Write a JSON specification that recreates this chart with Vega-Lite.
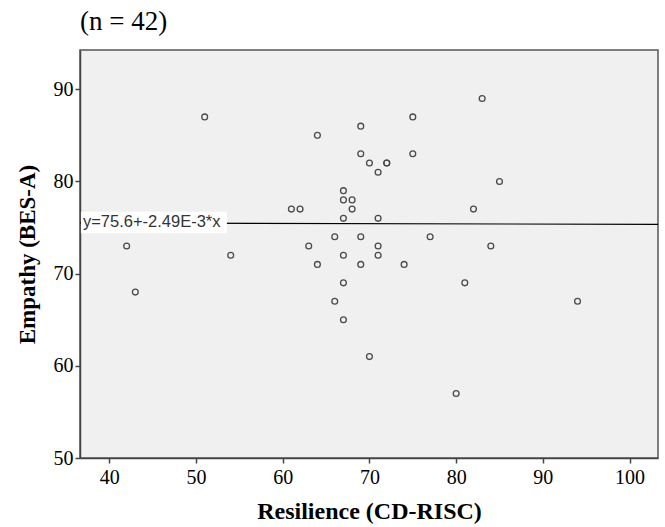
{
  "$schema": "https://vega.github.io/schema/vega-lite/v6.json",
  "width": 578,
  "height": 408,
  "autosize": "none",
  "padding": {"left": 80, "top": 50, "right": 7, "bottom": 69},
  "background": "white",
  "title": {
    "text": "(n = 42)",
    "anchor": "start",
    "frame": "group",
    "font": "Liberation Serif",
    "fontSize": 27,
    "fontWeight": "normal",
    "color": "black",
    "baseline": "bottom",
    "offset": 14,
    "dy": 27
  },
  "config": {
    "view": {"fill": "#f0f0f0", "stroke": "#555555", "strokeWidth": 1.5},
    "axis": {
      "grid": false,
      "domainColor": "#444444",
      "domainWidth": 1.5,
      "tickColor": "#444444",
      "tickWidth": 1.5,
      "tickSize": 5,
      "labelFont": "Liberation Serif",
      "labelFontSize": 20,
      "labelColor": "black",
      "labelFlush": false,
      "labelOverlap": false,
      "titleFont": "Liberation Serif",
      "titleFontSize": 23,
      "titleFontWeight": "bold",
      "titleColor": "black"
    }
  },
  "datasets": {
    "pts": [
      {"resilience": 42, "empathy": 73},
      {"resilience": 43, "empathy": 68},
      {"resilience": 51, "empathy": 87},
      {"resilience": 54, "empathy": 72},
      {"resilience": 61, "empathy": 77},
      {"resilience": 62, "empathy": 77},
      {"resilience": 63, "empathy": 73},
      {"resilience": 64, "empathy": 85},
      {"resilience": 64, "empathy": 71},
      {"resilience": 66, "empathy": 74},
      {"resilience": 66, "empathy": 67},
      {"resilience": 67, "empathy": 79},
      {"resilience": 67, "empathy": 78},
      {"resilience": 67, "empathy": 76},
      {"resilience": 67, "empathy": 72},
      {"resilience": 67, "empathy": 69},
      {"resilience": 67, "empathy": 65},
      {"resilience": 68, "empathy": 78},
      {"resilience": 68, "empathy": 77},
      {"resilience": 69, "empathy": 86},
      {"resilience": 69, "empathy": 83},
      {"resilience": 69, "empathy": 74},
      {"resilience": 69, "empathy": 71},
      {"resilience": 70, "empathy": 82},
      {"resilience": 70, "empathy": 61},
      {"resilience": 71, "empathy": 81},
      {"resilience": 71, "empathy": 76},
      {"resilience": 71, "empathy": 73},
      {"resilience": 71, "empathy": 72},
      {"resilience": 72, "empathy": 82},
      {"resilience": 72, "empathy": 82},
      {"resilience": 74, "empathy": 71},
      {"resilience": 75, "empathy": 87},
      {"resilience": 75, "empathy": 83},
      {"resilience": 77, "empathy": 74},
      {"resilience": 80, "empathy": 57},
      {"resilience": 81, "empathy": 69},
      {"resilience": 82, "empathy": 77},
      {"resilience": 83, "empathy": 89},
      {"resilience": 84, "empathy": 73},
      {"resilience": 85, "empathy": 80},
      {"resilience": 94, "empathy": 67}
    ],
    "fit": [
      {"resilience": 36.62, "empathy": 75.51},
      {"resilience": 103.28, "empathy": 75.34}
    ],
    "annot": [
      {"label": "y=75.6+-2.49E-3*x", "x": 36.96, "y": 75.55, "boxLeft": 36.73, "boxRight": 53.56, "boxBottom": 74.38, "boxTop": 76.72}
    ]
  },
  "layer": [
    {
      "data": {"name": "pts"},
      "mark": {"type": "point", "shape": "circle", "filled": false, "size": 34, "stroke": "#4a4a4a", "strokeWidth": 1.3, "opacity": 1},
      "encoding": {
        "x": {
          "field": "resilience", "type": "quantitative",
          "scale": {"domain": [36.62, 103.28], "nice": false, "zero": false},
          "axis": {"title": "Resilience (CD-RISC)", "values": [40, 50, 60, 70, 80, 90, 100], "labelPadding": 4, "titlePadding": 12, "titleFontSize": 24}
        },
        "y": {
          "field": "empathy", "type": "quantitative",
          "scale": {"domain": [50, 94.26], "nice": false, "zero": false},
          "axis": {"title": "Empathy (BES-A)", "values": [50, 60, 70, 80, 90], "labelPadding": 2, "titlePadding": 14}
        }
      }
    },
    {
      "data": {"name": "fit"},
      "mark": {"type": "line", "color": "black", "strokeWidth": 1.2},
      "encoding": {
        "x": {"field": "resilience", "type": "quantitative"},
        "y": {"field": "empathy", "type": "quantitative"}
      }
    },
    {
      "data": {"name": "annot"},
      "mark": {"type": "rect", "fill": "white"},
      "encoding": {
        "x": {"field": "boxLeft", "type": "quantitative"},
        "x2": {"field": "boxRight"},
        "y": {"field": "boxBottom", "type": "quantitative"},
        "y2": {"field": "boxTop"}
      }
    },
    {
      "data": {"name": "annot"},
      "mark": {"type": "text", "align": "left", "baseline": "middle", "font": "Liberation Sans", "fontSize": 16.5, "color": "#333333"},
      "encoding": {
        "x": {"field": "x", "type": "quantitative"},
        "y": {"field": "y", "type": "quantitative"},
        "text": {"field": "label"}
      }
    }
  ]
}
